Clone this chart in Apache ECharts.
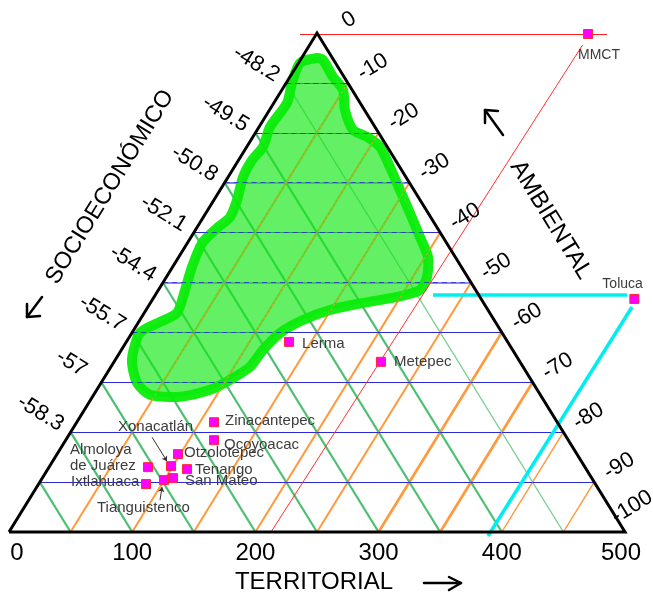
<!DOCTYPE html>
<html><head><meta charset="utf-8">
<script src="https://cdn.jsdelivr.net/npm/echarts@6/dist/echarts.min.js"></script>
<style>html,body{margin:0;padding:0;background:#fff}#c{width:653px;height:594px}</style>
</head><body><div id="c"></div>
<script>
// ---- data (x = TERRITORIAL 0..500, y = height % of triangle 0..100) ----
const bottomTicks = [0, 100, 200, 300, 400, 500];
const leftTicks = ['-48.2', '-49.5', '-50.8', '-52.1', '-54.4', '-55.7', '-57', '-58.3']; // heights 90..20
const leftTickHeights = [90, 80, 70, 60, 50, 40, 30, 20];
const rightTicks = ['0', '-10', '-20', '-30', '-40', '-50', '-60', '-70', '-80', '-90', '-100'];
const rightTickHeights = [100, 90, 80, 70, 60, 50, 40, 30, 20, 10, 0];
const gridSteps = [50, 100, 150, 200, 250, 300, 350, 400, 450];
const levelHeights = [10, 20, 30, 40, 50, 60, 70, 80, 90];

const placeNames = ['MMCT', 'Toluca', 'Lerma', 'Metepec', 'Zinacantepec', 'Ocoyoacac', 'Otzolotepec',
  'Xonacatlán', 'Tenango', 'Almoloya de Juárez', 'San Mateo', 'Tianguistenco', 'Ixtlahuaca'];
const placeX = [470.0, 507.6, 227.3, 301.9, 166.4, 166.4, 137.2, 131.5, 144.5, 112.8, 133.1, 125.8, 111.2];
const placeY = [99.8, 46.7, 38.1, 34.1, 22.0, 18.4, 15.6, 13.2, 12.6, 13.0, 10.8, 10.4, 9.6];

// projection lines
const mmctLineX = [236.2, 485.4], mmctLineY = [99.8, 99.8];
const mmctDiagX = [465.6, 212.7], mmctDiagY = [97.6, 0];
const tolucaLineX = [344.2, 501.6], tolucaLineY = [47.6, 47.6];
const tolucaDiagX = [505.7, 388.8], tolucaDiagY = [45.1, -0.8];

// simulated solution cloud outline
const cloudX = [250.0, 254.9, 263.0, 271.1, 272.7, 279.2, 290.6, 301.1, 309.3, 317.4, 325.5, 333.6, 340.1, 339.3,
  333.6, 314.9, 287.3, 260.6, 238.6, 220.0, 206.2, 195.6, 179.4, 163.2, 138.8, 114.4, 103.9, 99.8, 106.3, 122.6,
  136.4, 142.9, 148.5, 156.7, 168.8, 179.4, 185.1, 189.9, 197.2, 206.2, 211.9, 225.7, 229.7, 236.2];
const cloudY = [95.0, 94.6, 91.2, 88.6, 84.6, 80.6, 79.2, 77.2, 73.1, 68.5, 63.9, 59.1, 55.1, 51.1,
  48.5, 47.1, 45.9, 44.5, 42.5, 39.9, 36.5, 33.1, 30.5, 28.5, 27.1, 27.5, 29.9, 34.5, 39.9, 42.1,
  43.9, 48.5, 53.1, 57.9, 60.9, 63.1, 66.5, 71.1, 74.5, 77.2, 81.2, 86.0, 90.0, 94.0];

// annotation arrows for two labels
const arrowNames = ['Xonacatlán', 'Tianguistenco'];
const arrowFromX = [116.1, 122.6], arrowFromY = [19.0, 6.4];
const arrowToX = [128.2, 124.2], arrowToY = [14.2, 9.0];

// ---- styling / layout ----
const FONT = 'Liberation Sans, Arial, sans-serif';
const labelOffsets = {
  'MMCT': [-10, 21], 'Toluca': [-32, -15], 'Lerma': [13, 2], 'Metepec': [13, 0],
  'Zinacantepec': [11, -1], 'Ocoyoacac': [10, 5], 'Otzolotepec': [6, -1], 'Xonacatlán': [-53, -39],
  'Tenango': [8, 1], 'Almoloya de Juárez': [-78, -9], 'San Mateo': [12, 3], 'Tianguistenco': [-67, 28],
  'Ixtlahuaca': [-75, -2]
};
const smallLabel = { 'MMCT': 1, 'Toluca': 1 };

const GREEN = '#4cbf73', ORANGE = '#ff9a3c', BLUE = '#2a2ad6';
const gridLines = [], overlayLines = [];
gridSteps.forEach(d => {
  gridLines.push({ coords: [[d, 0], [d / 2, d / 5]],
    lineStyle: { color: d >= 450 ? '#7ccf95' : GREEN, width: d >= 450 ? 1.4 : 2.2, opacity: 1 } });
  const oc = [[d, 0], [d + (500 - d) / 2, (500 - d) / 5]];
  gridLines.push({ coords: oc,
    lineStyle: { color: ORANGE, width: (d === 300 || d === 350) ? 2.7 : (d >= 400 ? 1.4 : 2), opacity: 1 } });
  overlayLines.push({ coords: oc, lineStyle: { color: ORANGE, width: 1, type: [3, 2], opacity: 0.85 } });
});
levelHeights.forEach(h => {
  const light = (h === 50 || h === 70);
  const hc = [[2.5 * h, h], [500 - 2.5 * h, h]];
  gridLines.push({ coords: hc,
    lineStyle: { color: light ? '#8888ee' : BLUE, width: light ? 2 : 1.2, opacity: 1 } });
  overlayLines.push({ coords: hc, lineStyle: { color: BLUE, width: 1, type: [5, 4], opacity: 0.8 } });
});

const chart = echarts.init(document.getElementById('c'), null, { renderer: 'canvas' });
const option = {
  animation: false,
  backgroundColor: '#fff',
  grid: { left: 9, right: 28, top: 33, bottom: 62 },
  xAxis: { type: 'value', min: 0, max: 500, show: false },
  yAxis: { type: 'value', min: 0, max: 100, show: false },
  series: [
    { type: 'lines', coordinateSystem: 'cartesian2d', z: 1, clip: false, silent: true,
      symbol: 'none', data: gridLines },
    { type: 'custom', z: 2, clip: false, silent: true,
      data: [[cloudX[0], cloudY[0]]],
      renderItem: (params, api) => {
        const pts = cloudX.map((x, i) => api.coord([x, cloudY[i]]));
        return { type: 'polygon', shape: { points: pts, smooth: 0.25 },
          style: { fill: 'rgba(20,232,20,0.66)', stroke: 'rgba(8,236,8,0.95)', lineWidth: 10, lineJoin: 'round' } };
      } },
    { type: 'lines', coordinateSystem: 'cartesian2d', z: 3, clip: false, silent: true,
      symbol: 'none', data: overlayLines },
    { type: 'lines', coordinateSystem: 'cartesian2d', z: 4, clip: false, silent: true, symbol: 'none',
      data: [
        { coords: [[mmctLineX[0], mmctLineY[0]], [mmctLineX[1], mmctLineY[1]]], lineStyle: { color: '#ff2020', width: 1, opacity: 1 } },
        { coords: [[mmctDiagX[0], mmctDiagY[0]], [mmctDiagX[1], mmctDiagY[1]]], lineStyle: { color: '#ff3030', width: 1, opacity: 1 } },
        { coords: [[tolucaLineX[0], tolucaLineY[0]], [tolucaLineX[1], tolucaLineY[1]]], lineStyle: { color: '#00eef2', width: 3.5, opacity: 1 } },
        { coords: [[tolucaDiagX[0], tolucaDiagY[0]], [tolucaDiagX[1], tolucaDiagY[1]]], lineStyle: { color: '#00eef2', width: 3.5, opacity: 1 } }
      ] },
    { type: 'lines', coordinateSystem: 'cartesian2d', z: 5, clip: false, silent: true, symbol: 'none',
      polyline: true,
      data: [{ coords: [[0, 0], [250, 100], [500, 0], [0, 0]] }],
      lineStyle: { color: '#000', width: 3, opacity: 1, join: 'miter' } },
    { type: 'lines', coordinateSystem: 'cartesian2d', z: 6, clip: false, silent: true,
      symbol: ['none', 'arrow'], symbolSize: 5,
      data: arrowNames.map((n, i) => ({ name: n, coords: [[arrowFromX[i], arrowFromY[i]], [arrowToX[i], arrowToY[i]]] })),
      lineStyle: { color: '#333', width: 1, opacity: 1 } },
    { type: 'scatter', z: 7, clip: false, silent: true, symbol: 'rect', symbolSize: 9,
      itemStyle: { color: '#ff00ff', borderColor: '#ff2a2a', borderWidth: 1, opacity: 1 },
      data: placeNames.map((n, i) => ({
        name: n, value: [placeX[i], placeY[i]],
        label: { offset: labelOffsets[n], fontSize: smallLabel[n] ? 14 : 15 }
      })),
      label: { show: true, position: 'inside', align: 'left', verticalAlign: 'middle',
        color: '#3c3c3c', fontFamily: FONT, fontSize: 15, lineHeight: 16,
        formatter: p => p.name === 'Almoloya de Juárez' ? 'Almoloya\nde Juárez' : p.name } }
  ]
};
chart.setOption(option);

// ---- axis texts placed through the grid's own mapping ----
const px = (x, y) => chart.convertToPixel({ gridIndex: 0 }, [x, y]);
const g = [];
const txt = (text, x, y, size, rot, align) => g.push({ type: 'text', x, y, rotation: rot || 0, z: 10,
  style: { text, fill: '#000', fontSize: size, fontFamily: FONT, align: align || 'center', verticalAlign: 'middle' } });
const tilt = Math.atan2(308, 499);

bottomTicks.forEach(v => {
  const p = px(v, 0);
  const dx = v === 0 ? 8 : (v === 500 ? -4 : 0);
  txt(String(v), p[0] + dx, 553, 24, 0);
});
leftTicks.forEach((t, i) => {
  const h = leftTickHeights[i];
  const p = px(2.5 * h, h);
  txt(t, p[0] - 30, p[1] - 19, 22, -tilt);
});
rightTicks.forEach((t, i) => {
  const h = rightTickHeights[i];
  const p = px(500 - 2.5 * h, h);
  let dx = 25, dy = -16;
  if (t === '0') { dx = 32; dy = -13; }
  if (t === '-100') { dx = 7; dy = -25; }
  txt(t, p[0] + dx, p[1] + dy, 22, tilt);
});
txt('TERRITORIAL', 314, 582, 24, 0);
txt('SOCIOECONÓMICO', 110, 187, 23.5, Math.PI / 2 - tilt);
txt('AMBIENTAL', 551, 220, 24, -(Math.PI / 2 - tilt));

const arrow = (pts) => g.push({ type: 'polyline', z: 10, shape: { points: pts },
  style: { stroke: '#000', lineWidth: 2.5, fill: null, lineCap: 'round', lineJoin: 'round' } });
arrow([[424, 583], [461, 583]]); arrow([[449, 577], [461, 583], [449, 590]]);
arrow([[42, 297], [27, 317]]); arrow([[27, 304], [27, 317], [40, 316]]);
arrow([[503, 135], [485, 110]]); arrow([[485, 123], [485, 110], [498, 111]]);

chart.setOption({ graphic: g });
</script></body></html>
